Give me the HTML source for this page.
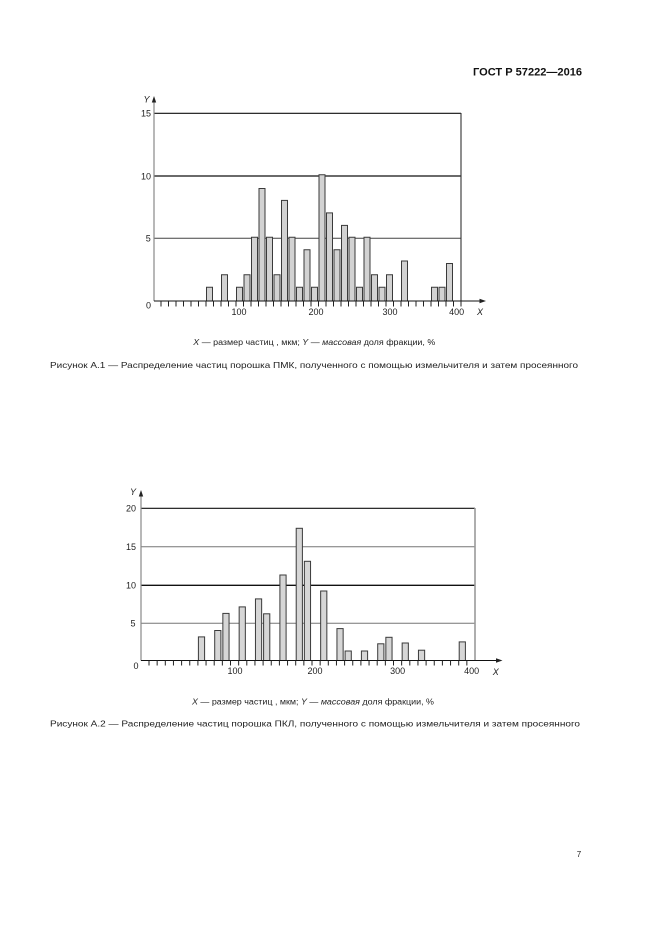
<!DOCTYPE html>
<html><head><meta charset="utf-8">
<style>
html,body{margin:0;padding:0;background:#fff;}
svg{display:block;}
text{font-family:"Liberation Sans","DejaVu Sans",sans-serif;fill:#222;}
</style></head>
<body>
<svg width="661" height="936" viewBox="0 0 661 936" xmlns="http://www.w3.org/2000/svg">
<rect width="661" height="936" fill="#fff"/>
<text x="473" y="75.7" font-size="11" font-weight="bold" textLength="109" lengthAdjust="spacingAndGlyphs" style="fill:#111">ГОСТ Р 57222—2016</text>

<!-- CHART 1 -->
<g>
<line x1="154" y1="238.3" x2="461" y2="238.3" stroke="#444" stroke-width="1"/>
<line x1="154" y1="176" x2="461" y2="176" stroke="#111" stroke-width="1.3"/>
<line x1="154" y1="113.3" x2="461" y2="113.3" stroke="#111" stroke-width="1.1"/>
<line x1="461" y1="113" x2="461" y2="301" stroke="#333" stroke-width="1.1"/>
<line x1="154" y1="301" x2="154" y2="100" stroke="#888" stroke-width="1.2"/>
<polygon points="154,96 151.8,102.5 156.2,102.5" fill="#222"/>
<g fill="#d2d2d2" stroke="#3a3a3a" stroke-width="1">
<rect x="206.5" y="287.25" width="6" height="13.75"/>
<rect x="221.5" y="274.75" width="6" height="26.25"/>
<rect x="236.5" y="287.25" width="6" height="13.75"/>
<rect x="244" y="274.75" width="6" height="26.25"/>
<rect x="251.5" y="237.25" width="6" height="63.75"/>
<rect x="259" y="188.5" width="6" height="112.5"/>
<rect x="266.5" y="237.25" width="6" height="63.75"/>
<rect x="274" y="274.75" width="6" height="26.25"/>
<rect x="281.5" y="200.4" width="6" height="100.6"/>
<rect x="289" y="237.25" width="6" height="63.75"/>
<rect x="296.5" y="287.25" width="6" height="13.75"/>
<rect x="304" y="249.75" width="6" height="51.25"/>
<rect x="311.5" y="287.25" width="6" height="13.75"/>
<rect x="319" y="174.75" width="6" height="126.25"/>
<rect x="326.5" y="212.9" width="6" height="88.1"/>
<rect x="334" y="249.75" width="6" height="51.25"/>
<rect x="341.5" y="225.4" width="6" height="75.6"/>
<rect x="349" y="237.25" width="6" height="63.75"/>
<rect x="356.5" y="287.25" width="6" height="13.75"/>
<rect x="364" y="237.25" width="6" height="63.75"/>
<rect x="371.5" y="274.75" width="6" height="26.25"/>
<rect x="379" y="287.25" width="6" height="13.75"/>
<rect x="386.5" y="274.75" width="6" height="26.25"/>
<rect x="401.5" y="261" width="6" height="40"/>
<rect x="431.5" y="287.25" width="6" height="13.75"/>
<rect x="439" y="287.25" width="6" height="13.75"/>
<rect x="446.5" y="263.5" width="6" height="37.5"/>
</g>
<line x1="154" y1="301" x2="481" y2="301" stroke="#111" stroke-width="1.1"/>
<polygon points="486,301 479.5,298.8 479.5,303.2" fill="#222"/>
<path d="M161 301V306.5M168.5 301V306.5M176 301V306.5M183.5 301V306.5M191 301V306.5M198.5 301V306.5M206 301V306.5M213.5 301V306.5M221 301V306.5M228.5 301V306.5M236 301V306.5M243.5 301V306.5M251 301V306.5M258.5 301V306.5M266 301V306.5M273.5 301V306.5M281 301V306.5M288.5 301V306.5M296 301V306.5M303.5 301V306.5M311 301V306.5M318.5 301V306.5M326 301V306.5M333.5 301V306.5M341 301V306.5M348.5 301V306.5M356 301V306.5M363.5 301V306.5M371 301V306.5M378.5 301V306.5M386 301V306.5M393.5 301V306.5M401 301V306.5M408.5 301V306.5M416 301V306.5M423.5 301V306.5M431 301V306.5M438.5 301V306.5M446 301V306.5M453.5 301V306.5M461 301V306.5" stroke="#222" stroke-width="1"/>
<g font-size="9" text-anchor="middle">
<text x="146" y="116.5">15</text>
<text x="146" y="179.3">10</text>
<text x="148.3" y="241.5">5</text>
<text x="148.5" y="308.5">0</text>
<text x="239" y="314.8">100</text>
<text x="316" y="314.8">200</text>
<text x="390" y="314.8">300</text>
<text x="456.7" y="314.8">400</text>
<text x="480" y="315" font-style="italic">X</text>
<text x="146.5" y="102.5" font-style="italic">Y</text>
</g>
<text x="193.3" y="345" font-size="8" textLength="242" lengthAdjust="spacingAndGlyphs"><tspan font-style="italic">X</tspan> — размер частиц , мкм; <tspan font-style="italic">Y</tspan> — <tspan font-style="italic">массовая</tspan> доля фракции, %</text>
<text x="50" y="368" font-size="8.5" textLength="528" lengthAdjust="spacingAndGlyphs">Рисунок А.1 — Распределение частиц порошка ПМК, полученного с помощью измельчителя и затем просеянного</text>
</g>

<!-- CHART 2 -->
<g>
<line x1="141" y1="623.3" x2="475" y2="623.3" stroke="#777" stroke-width="1"/>
<line x1="141" y1="546.7" x2="475" y2="546.7" stroke="#777" stroke-width="1"/>
<line x1="141" y1="585.3" x2="475" y2="585.3" stroke="#111" stroke-width="1.3"/>
<line x1="141" y1="508.3" x2="475" y2="508.3" stroke="#111" stroke-width="1.2"/>
<line x1="475" y1="508" x2="475" y2="660.5" stroke="#999" stroke-width="1.6"/>
<line x1="141" y1="660.5" x2="141" y2="494" stroke="#888" stroke-width="1.2"/>
<polygon points="141,490 138.8,496.5 143.2,496.5" fill="#222"/>
<g fill="#d6d6d6" stroke="#3a3a3a" stroke-width="1">
<rect x="198.4" y="636.9" width="6.2" height="23.6"/>
<rect x="214.7" y="630.5" width="6.2" height="30"/>
<rect x="222.85" y="613.4" width="6.2" height="47.1"/>
<rect x="239.15" y="606.9" width="6.2" height="53.6"/>
<rect x="255.45" y="598.9" width="6.2" height="61.6"/>
<rect x="263.6" y="613.8" width="6.2" height="46.7"/>
<rect x="279.9" y="575" width="6.2" height="85.5"/>
<rect x="296.2" y="528.3" width="6.2" height="132.2"/>
<rect x="304.35" y="561.3" width="6.2" height="99.2"/>
<rect x="320.65" y="591" width="6.2" height="69.5"/>
<rect x="336.95" y="628.6" width="6.2" height="31.9"/>
<rect x="345.1" y="651" width="6.2" height="9.5"/>
<rect x="361.4" y="651" width="6.2" height="9.5"/>
<rect x="377.7" y="643.8" width="6.2" height="16.7"/>
<rect x="385.85" y="637.3" width="6.2" height="23.2"/>
<rect x="402.15" y="643" width="6.2" height="17.5"/>
<rect x="418.45" y="650.2" width="6.2" height="10.3"/>
<rect x="459.2" y="641.9" width="6.2" height="18.6"/>
</g>
<line x1="141" y1="660.5" x2="497" y2="660.5" stroke="#111" stroke-width="1.1"/>
<polygon points="502.5,660.5 496,658.3 496,662.7" fill="#222"/>
<path d="M149 660.5V665.5M157.15 660.5V665.5M165.3 660.5V665.5M173.45 660.5V665.5M181.6 660.5V665.5M189.75 660.5V665.5M197.9 660.5V665.5M206.05 660.5V665.5M214.2 660.5V665.5M222.35 660.5V665.5M230.5 660.5V665.5M238.65 660.5V665.5M246.8 660.5V665.5M254.95 660.5V665.5M263.1 660.5V665.5M271.25 660.5V665.5M279.4 660.5V665.5M287.55 660.5V665.5M295.7 660.5V665.5M303.85 660.5V665.5M312 660.5V665.5M320.15 660.5V665.5M328.3 660.5V665.5M336.45 660.5V665.5M344.6 660.5V665.5M352.75 660.5V665.5M360.9 660.5V665.5M369.05 660.5V665.5M377.2 660.5V665.5M385.35 660.5V665.5M393.5 660.5V665.5M401.65 660.5V665.5M409.8 660.5V665.5M417.95 660.5V665.5M426.1 660.5V665.5M434.25 660.5V665.5M442.4 660.5V665.5M450.55 660.5V665.5M458.7 660.5V665.5M466.85 660.5V665.5" stroke="#222" stroke-width="1"/>
<g font-size="9" text-anchor="middle">
<text x="131" y="511.5">20</text>
<text x="131" y="550">15</text>
<text x="131" y="588.5">10</text>
<text x="133" y="626.5">5</text>
<text x="136" y="669">0</text>
<text x="235" y="674.2">100</text>
<text x="315" y="674.2">200</text>
<text x="397.7" y="674.2">300</text>
<text x="471.7" y="674.2">400</text>
<text x="495.7" y="675" font-style="italic">X</text>
<text x="133" y="495.2" font-style="italic">Y</text>
</g>
<text x="192" y="704.5" font-size="8" textLength="242" lengthAdjust="spacingAndGlyphs"><tspan font-style="italic">X</tspan> — размер частиц , мкм; <tspan font-style="italic">Y</tspan> — <tspan font-style="italic">массовая</tspan> доля фракции, %</text>
<text x="50" y="726.3" font-size="8.5" textLength="530" lengthAdjust="spacingAndGlyphs">Рисунок А.2 — Распределение частиц порошка ПКЛ, полученного с помощью измельчителя и затем просеянного</text>
</g>

<text x="579" y="857" font-size="8" text-anchor="middle">7</text>
</svg>
</body></html>
